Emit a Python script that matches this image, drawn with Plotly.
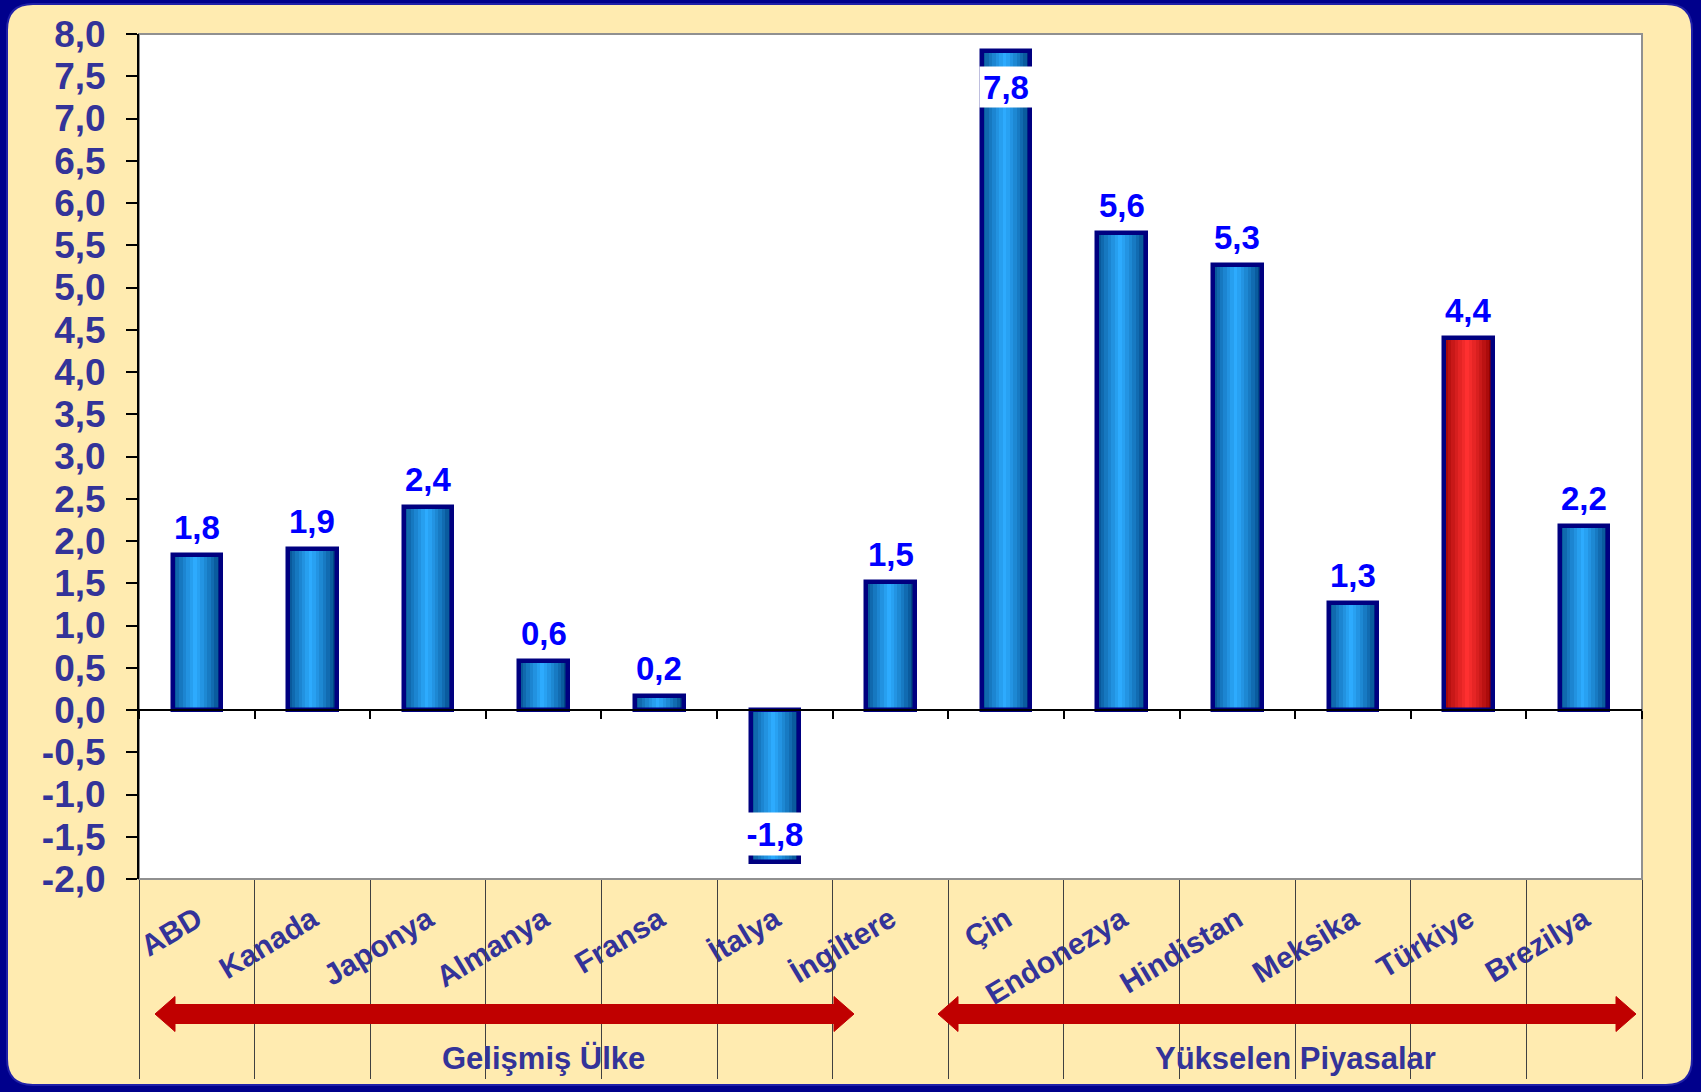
import plotly.graph_objects as go

# ---------------- data ----------------
categories = ["ABD", "Kanada", "Japonya", "Almanya", "Fransa", "İtalya", "İngiltere",
              "Çin", "Endonezya", "Hindistan", "Meksika", "Türkiye", "Brezilya"]
values = [1.83, 1.9, 2.4, 0.58, 0.17, -1.8, 1.52, 7.8, 5.64, 5.27, 1.27, 4.4, 2.18]
value_labels = ["1,8", "1,9", "2,4", "0,6", "0,2", "-1,8", "1,5",
                "7,8", "5,6", "5,3", "1,3", "4,4", "2,2"]
highlight = "Türkiye"
group_names = ["Gelişmiş Ülke", "Yükselen Piyasalar"]
group_first = [0, 7]
group_last = [6, 12]
y_tick_values = [-2.0, -1.5, -1.0, -0.5, 0.0, 0.5, 1.0, 1.5, 2.0, 2.5,
                 3.0, 3.5, 4.0, 4.5, 5.0, 5.5, 6.0, 6.5, 7.0, 7.5, 8.0]
y_tick_labels = ["-2,0", "-1,5", "-1,0", "-0,5", "0,0", "0,5", "1,0", "1,5", "2,0", "2,5",
                 "3,0", "3,5", "4,0", "4,5", "5,0", "5,5", "6,0", "6,5", "7,0", "7,5", "8,0"]

# ---------------- layout geometry (pixels) ----------------
FIG_W, FIG_H = 1701, 1092
L, R, T, B = 139, 1642, 34, 879
PW, PH = R - L, B - T


def px(x):
    return (x - L) / PW


def py(y):
    return (B - y) / PH


FONT = "Liberation Sans, Arial, sans-serif"
TXT = "#333399"
NAVY = "#000080"
n = len(categories)
xs = list(range(n))
bounds = [i - 0.5 for i in range(n + 1)]
x_range = [-0.5, n - 0.5]

fig = go.Figure()

# gradient stripes for the cylinder look
BAR_W = 0.42
N_STRIPES = 14
blue_dark, blue_bright = (0, 68, 130), (45, 172, 255)
red_dark, red_bright = (145, 0, 0), (255, 48, 48)


def mix(c0, c1, t):
    return "rgb(%d,%d,%d)" % tuple(round(a + (b - a) * t) for a, b in zip(c0, c1))


for k in range(N_STRIPES):
    pos = (k + 0.5) / N_STRIPES
    t = max(0.0, 1 - abs(pos - 0.47) / 0.5) ** 0.8
    cols = [mix(red_dark, red_bright, t) if c == highlight else mix(blue_dark, blue_bright, t)
            for c in categories]
    fig.add_trace(go.Bar(
        x=xs, y=values,
        offset=-BAR_W / 2 + k * BAR_W / N_STRIPES,
        width=BAR_W / N_STRIPES * 1.35 if k < N_STRIPES - 1 else BAR_W / N_STRIPES,
        marker=dict(color=cols, line=dict(width=0)),
        hoverinfo="skip", showlegend=False,
    ))

# outline
fig.add_trace(go.Bar(
    x=xs, y=values, width=BAR_W,
    marker=dict(color="rgba(0,0,0,0)", line=dict(color=NAVY, width=4.5)),
    hovertext=categories, showlegend=False,
))

# invisible helpers for the extra axes
for ax in ["x2", "x3"]:
    fig.add_trace(go.Scatter(x=xs, y=values, xaxis=ax, mode="markers",
                             marker=dict(opacity=0), hoverinfo="skip", showlegend=False))

annotations = []
for i, (v, lab) in enumerate(zip(values, value_labels)):
    base = dict(x=i, y=v, xref="x", yref="y", text=lab, showarrow=False,
                font=dict(family=FONT, size=33, color="#0000FF", weight="bold"))
    if v > 7:
        base.update(yanchor="top", yshift=-15, bgcolor="white", width=50, height=38, borderpad=1)
    elif v < 0:
        base.update(yanchor="bottom", yshift=6, bgcolor="white", width=60, height=40, borderpad=1)
    else:
        base.update(yanchor="bottom", yshift=7)
    annotations.append(base)

for name, a, b in zip(group_names, group_first, group_last):
    annotations.append(dict(x=(bounds[a] + bounds[b + 1]) / 2, xref="x",
                            y=py(1058), yref="paper", text=name, showarrow=False,
                            yanchor="middle",
                            font=dict(family=FONT, size=31, color=TXT, weight="bold")))


def rounded_rect(x0, y0, x1, y1, r):
    return (f"M {px(x0 + r)},{py(y0)} L {px(x1 - r)},{py(y0)} "
            f"Q {px(x1)},{py(y0)} {px(x1)},{py(y0 + r)} L {px(x1)},{py(y1 - r)} "
            f"Q {px(x1)},{py(y1)} {px(x1 - r)},{py(y1)} L {px(x0 + r)},{py(y1)} "
            f"Q {px(x0)},{py(y1)} {px(x0)},{py(y1 - r)} L {px(x0)},{py(y0 + r)} "
            f"Q {px(x0)},{py(y0)} {px(x0 + r)},{py(y0)} Z")


def double_arrow(xa, xb, c, hl=20, hh=17.5, bh=9.5):
    pts = [(xa, c), (xa + hl, c - hh), (xa + hl, c - bh), (xb - hl, c - bh), (xb - hl, c - hh),
           (xb, c), (xb - hl, c + hh), (xb - hl, c + bh), (xa + hl, c + bh), (xa + hl, c + hh)]
    return "M " + " L ".join(f"{px(a)},{py(b)}" for a, b in pts) + " Z"


shapes = [
    dict(type="path", xref="paper", yref="paper", path=rounded_rect(7, 4, 1692, 1085, 26),
         fillcolor="#FFEBB0", line=dict(color="#2020A8", width=2), layer="below"),
    dict(type="rect", xref="paper", yref="paper", x0=0, x1=1, y0=0, y1=1,
         fillcolor="white", line=dict(color="#909090", width=2), layer="below"),
    dict(type="path", xref="paper", yref="paper", path=double_arrow(155, 854, 1014),
         fillcolor="#C00000", line=dict(color="#C00000", width=1), layer="above"),
    dict(type="path", xref="paper", yref="paper", path=double_arrow(938, 1636, 1014),
         fillcolor="#C00000", line=dict(color="#C00000", width=1), layer="above"),
]

fig.update_layout(
    width=FIG_W, height=FIG_H,
    margin=dict(l=L, r=FIG_W - R, t=T, b=FIG_H - B, autoexpand=False),
    paper_bgcolor="#00008C", plot_bgcolor="rgba(0,0,0,0)",
    barmode="overlay", bargap=0,
    showlegend=False,
    shapes=shapes, annotations=annotations,
    xaxis=dict(range=x_range, tickvals=xs, ticktext=categories, tickangle=-31,
               ticks="outside", ticklen=10, tickcolor="rgba(0,0,0,0)",
               tickfont=dict(family=FONT, size=30, color=TXT, weight="bold"),
               showgrid=False, zeroline=False, showline=False, fixedrange=True),
    xaxis2=dict(overlaying="x", anchor="free", position=py(710), range=x_range,
                tickvals=bounds, ticks="outside", ticklen=8, tickwidth=1.5, tickcolor="black",
                showticklabels=False, showline=True, linecolor="black", linewidth=2,
                showgrid=False, zeroline=False),
    xaxis3=dict(overlaying="x", anchor="free", position=0, range=x_range,
                tickvals=bounds, ticks="outside", ticklen=199, tickwidth=1.2, tickcolor="#404040",
                showticklabels=False, showline=False, showgrid=False, zeroline=False),
    yaxis=dict(range=[-2, 8], tickvals=y_tick_values, ticktext=y_tick_labels,
               ticks="outside", ticklen=11, tickwidth=1.5, tickcolor="black",
               showline=True, linecolor="black", linewidth=2, ticklabelstandoff=13,
               tickfont=dict(family=FONT, size=37, color=TXT, weight="bold"),
               showgrid=False, zeroline=False, fixedrange=True),
)

fig.write_html("out.html", config={"displayModeBar": False},
               post_script="document.body.style.margin='0';document.body.style.overflow='hidden';")
